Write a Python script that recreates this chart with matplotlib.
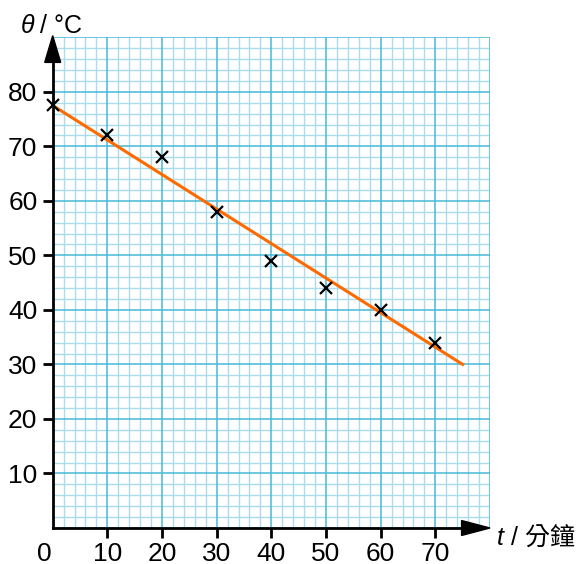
import matplotlib.pyplot as plt
from matplotlib.patches import Polygon

# measured points (time in minutes, temperature in degrees C)
t_vals = [0, 10, 20, 30, 40, 50, 60, 70]
theta_vals = [77.5, 72, 68, 58, 49, 44, 40, 34]

# best-fit line end points
fit_t = [0, 75]
fit_theta = [77.5, 30]

x_ticks = [10, 20, 30, 40, 50, 60, 70]
y_ticks = [10, 20, 30, 40, 50, 60, 70, 80]

fonts = ['Liberation Sans', 'Noto Sans CJK TC', 'DejaVu Sans']
plt.rcParams['font.family'] = fonts

fig = plt.figure(figsize=(5.83, 5.64), dpi=100)
ax = fig.add_axes([52.7 / 583, 1 - 528 / 564, (490 - 52.7) / 583, (528 - 37.3) / 564])
ax.set_xlim(0, 80)
ax.set_ylim(0, 90)

# graph paper
for v in range(0, 81, 2):
    if v % 10:
        ax.axvline(v, color='#aadcec', lw=1.0, zorder=0)
for v in range(0, 91, 2):
    if v % 10:
        ax.axhline(v, color='#aadcec', lw=1.0, zorder=0)
for v in range(0, 81, 10):
    ax.axvline(v, color='#45b9d8', lw=1.1, zorder=0.5)
for v in range(0, 91, 10):
    ax.axhline(v, color='#45b9d8', lw=1.1, zorder=0.5)

ax.plot(fit_t, fit_theta, color='#ff6a00', lw=2.2, zorder=3)
ax.plot(t_vals, theta_vals, 'x', color='black', ms=9, mew=1.6, zorder=4, clip_on=False)

for side in ['top', 'right']:
    ax.spines[side].set_visible(False)
for side in ['left', 'bottom']:
    ax.spines[side].set_linewidth(2)
    ax.spines[side].set_zorder(5)

ax.set_xticks(x_ticks)
ax.set_yticks(y_ticks)
ax.tick_params(direction='out', length=7, width=2, labelsize=19)
ax.tick_params(axis='y', pad=4)
ax.tick_params(axis='x', pad=3)

# arrow heads
ax.add_patch(Polygon([[0, 90.3], [-1.46, 85.4], [1.46, 85.4]], closed=True,
                     color='black', clip_on=False, zorder=6))
ax.add_patch(Polygon([[80, 0], [74.8, 1.37], [74.8, -1.37]], closed=True,
                     color='black', clip_on=False, zorder=6))
ax.spines['left'].set_bounds(0, 86)
ax.spines['bottom'].set_bounds(0, 75)

# "0" at origin
fig.text(44 / 583, 1 - 561 / 564, '0', fontsize=19, ha='center', va='baseline')

# axis titles
fig.text(21 / 583, 1 - 33 / 564, 'θ', fontsize=18, style='italic', va='baseline')
fig.text(40 / 583, 1 - 33 / 564, '/ °C', fontsize=18, va='baseline')
fig.text(497 / 583, 1 - 545 / 564, 't', fontsize=18, style='italic', va='baseline')
fig.text(511 / 583, 1 - 545 / 564, '/ 分鐘', fontsize=18, va='baseline')

fig.savefig('out.png', dpi=100)
